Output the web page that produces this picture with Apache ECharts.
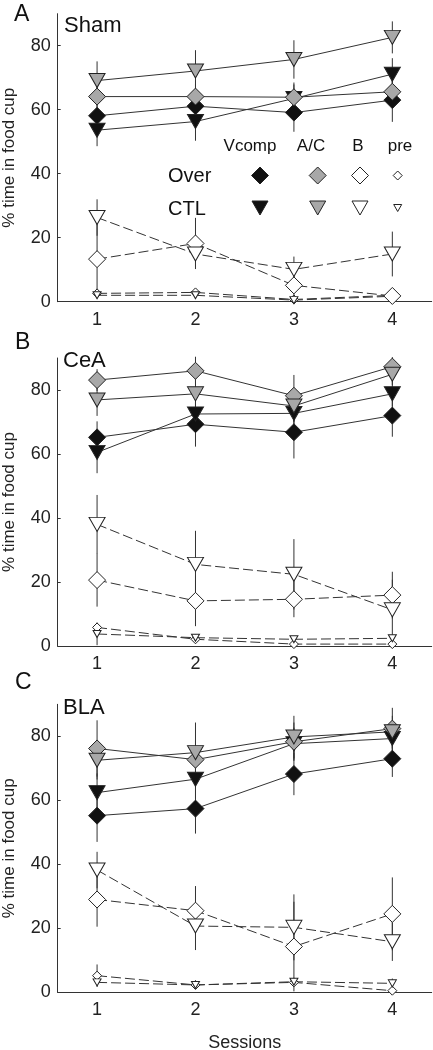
<!DOCTYPE html>
<html>
<head>
<meta charset="utf-8">
<script src="https://cdn.jsdelivr.net/npm/echarts@6/dist/echarts.min.js"></script>
<style>html,body{margin:0;padding:0;background:#fff}#c{width:433px;height:1050px}</style>
</head>
<body>
<div id="c"></div>
<script>
// ---- data ----
const sessions = [1, 2, 3, 4];
const yTicks = [0, 20, 40, 60, 80];
const panelLetters = ['A', 'B', 'C'];
const panelNames = ['Sham', 'CeA', 'BLA'];
const legendCols = ['Vcomp', 'A/C', 'B', 'pre'];
const legendRows = ['Over', 'CTL'];

// Panel A: Sham
const shamOverVcomp = [58.1, 61.1, 59.1, 63.0];
const shamOverVcompErr = [4, 4, 6, 6.8];
const shamOverAC = [64.1, 64.1, 63.9, 65.6];
const shamOverACErr = [4, 4, 4, 4];
const shamOverB = [13.3, 18.2, 5.1, 1.8];
const shamOverBErr = [11, 8, 4, 1];
const shamOverPre = [2.6, 2.9, 0.7, 2.0];
const shamOverPreErr = [1, 1, 0.5, 1];
const shamCtlVcomp = [53.6, 56.3, 63.5, 71.1];
const shamCtlVcompErr = [5, 6, 5, 5];
const shamCtlAC = [69.1, 72.1, 75.7, 82.6];
const shamCtlACErr = [6, 6.5, 6, 5];
const shamCtlB = [26.3, 14.9, 10.1, 14.9];
const shamCtlBErr = [5.7, 4, 4, 7];
const shamCtlPre = [2.0, 2.0, 0.5, 1.7];
const shamCtlPreErr = [1, 1, 0.5, 1];

// Panel B: CeA
const ceaOverVcomp = [65.2, 69.3, 66.8, 72.0];
const ceaOverVcompErr = [5, 7, 8.2, 6.6];
const ceaOverAC = [83.1, 86.0, 78.2, 87.3];
const ceaOverACErr = [3.4, 4.4, 6.5, 3];
const ceaOverB = [20.6, 14.1, 14.6, 15.9];
const ceaOverBErr = [8.3, 7.9, 5.6, 7.3];
const ceaOverPre = [5.8, 2.1, 0.6, 0.6];
const ceaOverPreErr = [1.5, 1, 0.5, 0.5];
const ceaCtlVcomp = [60.5, 72.5, 72.7, 78.8];
const ceaCtlVcompErr = [6.5, 5, 5, 4];
const ceaCtlAC = [76.9, 78.8, 75.0, 84.9];
const ceaCtlACErr = [5, 5, 5, 3.4];
const ceaCtlB = [38.0, 25.5, 22.4, 11.3];
const ceaCtlBErr = [9.2, 10.5, 11, 9.4];
const ceaCtlPre = [3.75, 2.6, 2.1, 2.4];
const ceaCtlPreErr = [3.5, 1, 1, 1];

// Panel C: BLA
const blaOverVcomp = [55.2, 57.4, 68.2, 73.0];
const blaOverVcompErr = [8.2, 7.8, 6.6, 5.7];
const blaOverAC = [76.2, 72.7, 78.3, 82.4];
const blaOverACErr = [8.8, 6, 6, 6.5];
const blaOverB = [29.0, 25.5, 14.3, 24.5];
const blaOverBErr = [8.5, 7.7, 14, 11.4];
const blaOverPre = [5.2, 2.3, 3.1, 0.5];
const blaOverPreErr = [3.5, 0.5, 1, 0.5];
const blaCtlVcomp = [62.4, 66.6, 77.7, 79.3];
const blaCtlVcompErr = [6, 6, 5, 5];
const blaCtlAC = [72.5, 74.9, 79.8, 81.4];
const blaCtlACErr = [6, 9.4, 6.6, 5];
const blaCtlB = [38.2, 20.7, 20.3, 15.8];
const blaCtlBErr = [5.7, 7.5, 10.3, 6];
const blaCtlPre = [3.1, 2.3, 3.3, 2.8];
const blaCtlPreErr = [1, 0.5, 1, 1.5];

const panels = [
  {over:[shamOverVcomp, shamOverAC, shamOverB, shamOverPre], overErr:[shamOverVcompErr, shamOverACErr, shamOverBErr, shamOverPreErr],
   ctl:[shamCtlVcomp, shamCtlAC, shamCtlB, shamCtlPre], ctlErr:[shamCtlVcompErr, shamCtlACErr, shamCtlBErr, shamCtlPreErr]},
  {over:[ceaOverVcomp, ceaOverAC, ceaOverB, ceaOverPre], overErr:[ceaOverVcompErr, ceaOverACErr, ceaOverBErr, ceaOverPreErr],
   ctl:[ceaCtlVcomp, ceaCtlAC, ceaCtlB, ceaCtlPre], ctlErr:[ceaCtlVcompErr, ceaCtlACErr, ceaCtlBErr, ceaCtlPreErr]},
  {over:[blaOverVcomp, blaOverAC, blaOverB, blaOverPre], overErr:[blaOverVcompErr, blaOverACErr, blaOverBErr, blaOverPreErr],
   ctl:[blaCtlVcomp, blaCtlAC, blaCtlB, blaCtlPre], ctlErr:[blaCtlVcompErr, blaCtlACErr, blaCtlBErr, blaCtlPreErr]}
];

// ---- styles ----
const FONT = 'Liberation Sans, Arial, sans-serif';
const fills = ['#111111', '#a8a8a8', '#ffffff', '#ffffff'];
const lineTypes = ['solid', 'solid', [10, 4], [10, 4]];
const diamondSizes = [[17, 17], [17, 17], [17, 17], [9, 9]];
const triSizes = [[16, 14], [16, 14], [16, 14], [8, 7]];
const gridTops = [13.7, 358, 704.3];
const H = 288;
const letterPos = [[14, 3], [15, 331], [15, 671]];
const namePos = [[64, 14.5], [63, 349.5], [63, 697]];

const chart = echarts.init(document.getElementById('c'), null, {renderer: 'canvas'});

const grids = [], xAxes = [], yAxes = [], series = [], graphics = [];

panels.forEach((p, i) => {
  grids.push({left: 57.7, width: 374, top: gridTops[i], height: H, containLabel: false, outerBoundsMode: 'none'});
  xAxes.push({
    type: 'value', gridIndex: i, min: 0.6, max: 4.4,
    axisLine: {lineStyle: {color: '#333', width: 1}},
    axisTick: {show: false},
    splitLine: {show: false},
    axisLabel: {customValues: sessions, color: '#222', fontSize: 18, fontFamily: FONT, margin: 9},
    name: i === 2 ? 'Sessions' : '', nameLocation: 'middle', nameGap: 42,
    nameTextStyle: {color: '#222', fontSize: 18, fontFamily: FONT}
  });
  yAxes.push({
    type: 'value', gridIndex: i, min: 0, max: 90,
    axisLine: {show: true, lineStyle: {color: '#333', width: 1}},
    axisTick: {show: true, inside: true, length: 3, customValues: yTicks, lineStyle: {color: '#333'}},
    splitLine: {show: false},
    axisLabel: {customValues: yTicks, color: '#222', fontSize: 18, fontFamily: FONT, margin: 7},
    name: '% time in food cup', nameLocation: 'middle', nameGap: 40, nameRotate: 90,
    nameTextStyle: {color: '#222', fontSize: 17, fontFamily: FONT}
  });

  const groups = [
    {vals: p.over, errs: p.overErr, symbol: 'diamond', sizes: diamondSizes, rot: 0},
    {vals: p.ctl, errs: p.ctlErr, symbol: 'triangle', sizes: triSizes, rot: 180}
  ];
  // error bars first
  groups.forEach(g => {
    g.vals.forEach((vals, k) => {
      const data = sessions.map((s, j) => [s, Math.max(0, vals[j] - g.errs[k][j]), vals[j] + g.errs[k][j]]);
      series.push({
        type: 'custom', xAxisIndex: i, yAxisIndex: i, z: 1, silent: true,
        encode: {x: 0, y: [1, 2]},
        data: data,
        renderItem: (params, api) => {
          const a = api.coord([api.value(0), api.value(1)]);
          const b = api.coord([api.value(0), api.value(2)]);
          return {type: 'line', shape: {x1: a[0], y1: a[1], x2: b[0], y2: b[1]}, style: {stroke: '#333', lineWidth: 1}};
        }
      });
    });
  });
  // lines + markers: dashed first then solid
  [3, 2, 0, 1].forEach(k => {
    groups.forEach(g => {
      series.push({
        type: 'line', xAxisIndex: i, yAxisIndex: i, z: 3,
        data: sessions.map((s, j) => [s, g.vals[k][j]]),
        symbol: g.symbol, symbolSize: g.sizes[k], symbolRotate: g.rot, showAllSymbol: true,
        lineStyle: {color: '#333', width: 1, type: lineTypes[k]},
        itemStyle: {color: fills[k], borderColor: '#222', borderWidth: 1},
        animation: false
      });
    });
  });

  graphics.push({type: 'text', left: letterPos[i][0], top: letterPos[i][1],
    style: {text: panelLetters[i], fontSize: 23, fontFamily: FONT, fill: '#111'}});
  graphics.push({type: 'text', left: namePos[i][0], top: namePos[i][1],
    style: {text: panelNames[i], fontSize: 22, fontFamily: FONT, fill: '#111'}});
});

// legend (panel A)
const colX = [250, 311, 358, 400];
const markX = [260, 317.7, 360, 397.7];
const rowY = [175.5, 208];
legendCols.forEach((t, k) => {
  graphics.push({type: 'text', x: colX[k], y: 146.5,
    style: {text: t, fontSize: 17, fontFamily: FONT, fill: '#111', align: 'center', verticalAlign: 'middle'}});
});
legendRows.forEach((t, r) => {
  graphics.push({type: 'text', x: 168, y: rowY[r] + 1,
    style: {text: t, fontSize: 20, fontFamily: FONT, fill: '#111', align: 'left', verticalAlign: 'middle'}});
});
markX.forEach((cx, k) => {
  const d = diamondSizes[k][0] / 2;
  const cy = rowY[0];
  graphics.push({type: 'polygon', shape: {points: [[cx, cy - d], [cx + d, cy], [cx, cy + d], [cx - d, cy]]},
    style: {fill: fills[k], stroke: '#222', lineWidth: 1}});
  const w = triSizes[k][0] / 2, h = triSizes[k][1] / 2, cy2 = rowY[1];
  graphics.push({type: 'polygon', shape: {points: [[cx - w, cy2 - h], [cx + w, cy2 - h], [cx, cy2 + h]]},
    style: {fill: fills[k], stroke: '#222', lineWidth: 1}});
});

chart.setOption({
  animation: false,
  backgroundColor: '#fff',
  grid: grids, xAxis: xAxes, yAxis: yAxes, series: series, graphic: graphics
});
</script>
</body>
</html>
